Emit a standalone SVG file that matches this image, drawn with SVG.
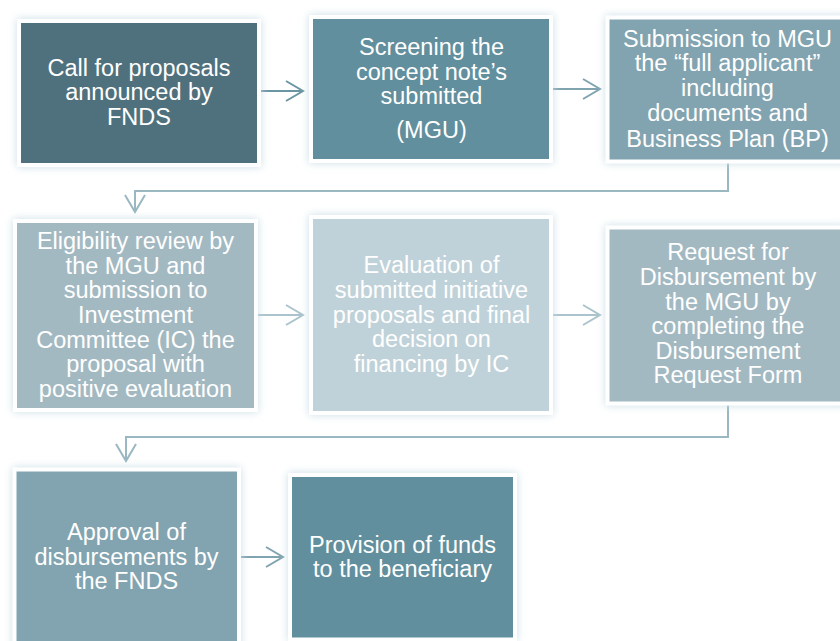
<svg xmlns="http://www.w3.org/2000/svg" width="840" height="641" viewBox="0 0 840 641">
<defs>
<style>
.box{stroke:#ffffff;stroke-width:4;filter:url(#glow)}
.t{font-family:"Liberation Sans",Arial,sans-serif;font-size:23.5px;fill:#ffffff;text-anchor:middle}
.c{fill:none;stroke-width:2}
.c1{stroke:#6b95a3}
.c2{stroke:#80a3b0}
.c3{stroke:#9ab7c2}
.c4{stroke:#aac3cc}
</style>
<filter id="glow" x="-20%" y="-20%" width="140%" height="140%">
<feGaussianBlur in="SourceAlpha" stdDeviation="4" result="b"/>
<feFlood flood-color="#c6dbe3" flood-opacity="0.9"/>
<feComposite in2="b" operator="in" result="g"/>
<feMerge><feMergeNode in="g"/><feMergeNode in="SourceGraphic"/></feMerge>
</filter>
<marker id="m1" markerUnits="userSpaceOnUse" viewBox="0 0 20 22" refX="18" refY="11" markerWidth="20" markerHeight="22" orient="auto"><path d="M1,1 L18,11 L1,21" fill="none" stroke="#6b95a3" stroke-width="2"/></marker>
<marker id="m2" markerUnits="userSpaceOnUse" viewBox="0 0 20 22" refX="18" refY="11" markerWidth="20" markerHeight="22" orient="auto"><path d="M1,1 L18,11 L1,21" fill="none" stroke="#80a3b0" stroke-width="2"/></marker>
<marker id="m3" markerUnits="userSpaceOnUse" viewBox="0 0 20 22" refX="18" refY="11" markerWidth="20" markerHeight="22" orient="auto"><path d="M1,1 L18,11 L1,21" fill="none" stroke="#9ab7c2" stroke-width="2"/></marker>
<marker id="m4" markerUnits="userSpaceOnUse" viewBox="0 0 20 22" refX="18" refY="11" markerWidth="20" markerHeight="22" orient="auto"><path d="M1,1 L18,11 L1,21" fill="none" stroke="#aac3cc" stroke-width="2"/></marker>
</defs>
<rect width="840" height="641" fill="#ffffff"/>

<g id="connectors">
<path class="c c1" d="M260,91 H303" marker-end="url(#m1)"/>
<path class="c c2" d="M553,89 H600" marker-end="url(#m2)"/>
<path class="c c3" d="M728,163 V191 H135 V212" marker-end="url(#m3)"/>
<path class="c c4" d="M258,315 H303" marker-end="url(#m4)"/>
<path class="c c4" d="M553,315 H600" marker-end="url(#m4)"/>
<path class="c c3" d="M728,405 V437 H126 V461" marker-end="url(#m3)"/>
<path class="c c2" d="M241,557 H283" marker-end="url(#m2)"/>
</g>

<g id="node1">
<rect class="box" x="19" y="21" width="240" height="144" fill="#50717d"/>
<text class="t" x="139" y="76">Call for proposals</text>
<text class="t" x="139" y="100.3">announced by</text>
<text class="t" x="139" y="124.5">FNDS</text>
</g>

<g id="node2">
<rect class="box" x="311" y="17" width="240" height="144" fill="#628f9d"/>
<text class="t" x="431.5" y="55">Screening the</text>
<text class="t" x="431.5" y="79.5">concept note’s</text>
<text class="t" x="431.5" y="104">submitted</text>
<text class="t" x="431.5" y="138">(MGU)</text>
</g>

<g id="node3">
<rect class="box" x="607.5" y="17.5" width="240" height="144" fill="#82a4b0"/>
<text class="t" x="727.5" y="46.5">Submission to MGU</text>
<text class="t" x="727.5" y="71">the “full applicant”</text>
<text class="t" x="727.5" y="95.5">including</text>
<text class="t" x="727.5" y="121">documents and</text>
<text class="t" x="727.5" y="146.5">Business Plan (BP)</text>
</g>

<g id="node4">
<rect class="box" x="15" y="221" width="241" height="189" fill="#a3b9c2"/>
<text class="t" x="135.5" y="249">Eligibility review by</text>
<text class="t" x="135.5" y="273.5">the MGU and</text>
<text class="t" x="135.5" y="298">submission to</text>
<text class="t" x="135.5" y="323">Investment</text>
<text class="t" x="135.5" y="347.5">Committee (IC) the</text>
<text class="t" x="135.5" y="372">proposal with</text>
<text class="t" x="135.5" y="397">positive evaluation</text>
</g>

<g id="node5">
<rect class="box" x="311" y="217" width="240" height="196" fill="#c0d2d9"/>
<text class="t" x="431.5" y="273">Evaluation of</text>
<text class="t" x="431.5" y="298">submitted initiative</text>
<text class="t" x="431.5" y="322.5">proposals and final</text>
<text class="t" x="431.5" y="347">decision on</text>
<text class="t" x="431.5" y="372">financing by IC</text>
</g>

<g id="node6">
<rect class="box" x="607.5" y="227.5" width="240" height="176" fill="#a3b9c2"/>
<text class="t" x="728" y="260">Request for</text>
<text class="t" x="728" y="285">Disbursement by</text>
<text class="t" x="728" y="309.5">the MGU by</text>
<text class="t" x="728" y="334">completing the</text>
<text class="t" x="728" y="358.5">Disbursement</text>
<text class="t" x="728" y="383">Request Form</text>
</g>

<g id="node7">
<rect class="box" x="14.5" y="469.5" width="224.5" height="200" fill="#82a4b0"/>
<text class="t" x="126.5" y="540">Approval of</text>
<text class="t" x="126.5" y="565">disbursements by</text>
<text class="t" x="126.5" y="589">the FNDS</text>
</g>

<g id="node8">
<rect class="box" x="290" y="475" width="225" height="164.5" fill="#628f9d"/>
<text class="t" x="402.5" y="553">Provision of funds</text>
<text class="t" x="402.5" y="577">to the beneficiary</text>
</g>
</svg>
